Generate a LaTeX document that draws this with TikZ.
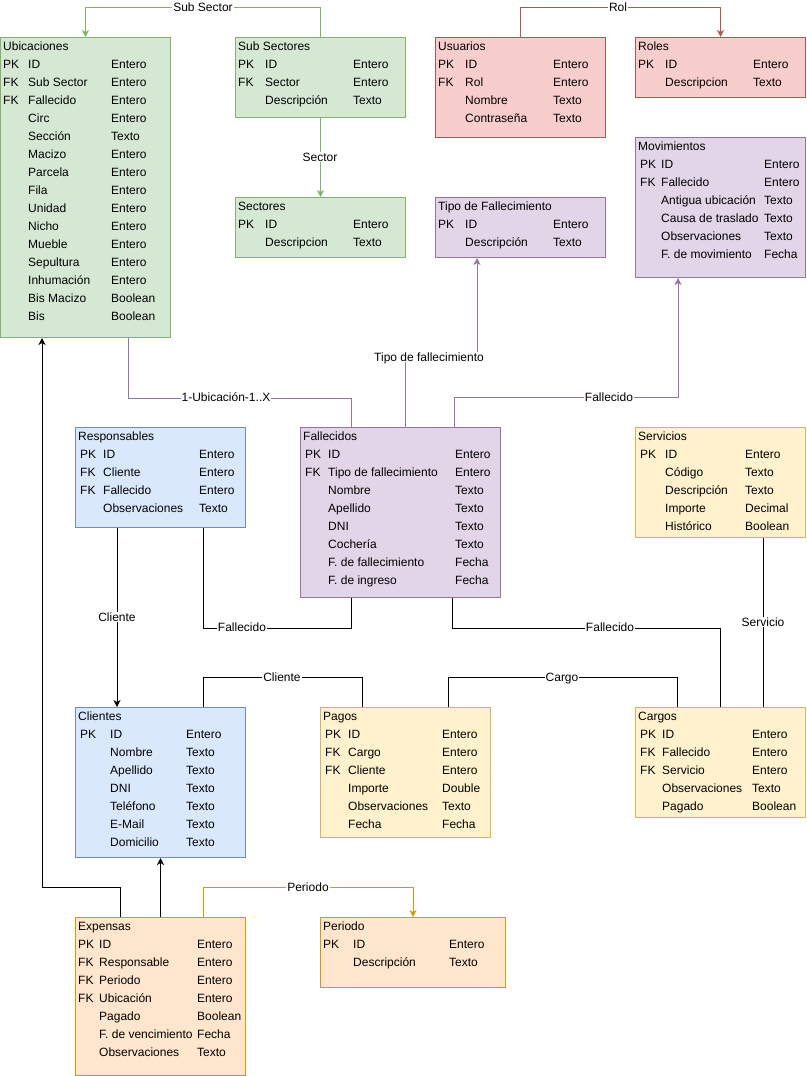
\documentclass[tikz,border=0pt]{standalone}
\usepackage{fontspec}
\setmainfont{Liberation Sans}
\usetikzlibrary{arrows.meta,calc}

% draw.io palette
\definecolor{gfill}{HTML}{D5E8D4}\definecolor{gline}{HTML}{82B366}
\definecolor{rfill}{HTML}{F8CECC}\definecolor{rline}{HTML}{B85450}
\definecolor{pfill}{HTML}{E1D5E7}\definecolor{pline}{HTML}{9673A6}
\definecolor{bfill}{HTML}{DAE8FC}\definecolor{bline}{HTML}{6C8EBF}
\definecolor{yfill}{HTML}{FFF2CC}\definecolor{yline}{HTML}{D6B656}
\definecolor{ofill}{HTML}{FFE6CC}\definecolor{oline}{HTML}{D79B00}

% table body: key column, field column, type column
\newcommand{\ttl}[2]{\multicolumn{3}{@{\hspace{#1}}l@{}}{#2}\\}
\newcommand{\fields}[3]{\begin{tabular}{@{}p{#1}@{}p{#2}@{}l@{}}#3\end{tabular}}

\tikzset{
  box/.style={draw, line width=1pt, anchor=north west, inner sep=0pt},
  gbox/.style={box, fill=gfill, draw=gline},
  rbox/.style={box, fill=rfill, draw=rline},
  pbox/.style={box, fill=pfill, draw=pline},
  bbox/.style={box, fill=bfill, draw=bline},
  ybox/.style={box, fill=yfill, draw=yline},
  obox/.style={box, fill=ofill, draw=oline},
  tbl/.style={anchor=north west, inner sep=0pt, font=\fontsize{12}{18}\selectfont},
  lbl/.style={fill=white, inner sep=1pt, font=\fontsize{12}{14}\selectfont,
              text height=8.6pt, text depth=0pt},
  link/.style={line width=1pt},
  >={Stealth[length=7pt,width=7pt,inset=2pt]},
}

\begin{document}
\begin{tikzpicture}[x=1pt,y=-1pt]
\useasboundingbox (0,0) rectangle (806,1076);

% ---------- tables ----------
\node[gbox, minimum width=170pt, minimum height=300pt] (ubicaciones) at (0,37) {};
\node[tbl] (ubicaciones-f) at ($(ubicaciones.north west)+(3,1)$) {\fields{25pt}{83pt}{\ttl{0pt}{Ubicaciones}
PK & ID & Entero\\ FK & Sub Sector & Entero\\ FK & Fallecido & Entero\\
 & Circ & Entero\\ & Sección & Texto\\ & Macizo & Entero\\ & Parcela & Entero\\
 & Fila & Entero\\ & Unidad & Entero\\ & Nicho & Entero\\ & Mueble & Entero\\
 & Sepultura & Entero\\ & Inhumación & Entero\\ & Bis Macizo & Boolean\\ & Bis & Boolean}};

\node[gbox, minimum width=170pt, minimum height=80pt] (subsectores) at (235,37) {};
\node[tbl] (subsectores-f) at ($(subsectores.north west)+(3,1)$) {\fields{27pt}{88pt}{\ttl{0pt}{Sub Sectores}
PK & ID & Entero\\ FK & Sector & Entero\\ & Descripción & Texto}};

\node[gbox, minimum width=170pt, minimum height=60pt] (sectores) at (235,197) {};
\node[tbl] (sectores-f) at ($(sectores.north west)+(3,1)$) {\fields{27pt}{88pt}{\ttl{0pt}{Sectores}
PK & ID & Entero\\ & Descripcion & Texto}};

\node[rbox, minimum width=170pt, minimum height=100pt] (usuarios) at (435,37) {};
\node[tbl] (usuarios-f) at ($(usuarios.north west)+(3,1)$) {\fields{27pt}{88pt}{\ttl{0pt}{Usuarios}
PK & ID & Entero\\ FK & Rol & Entero\\ & Nombre & Texto\\ & Contraseña & Texto}};

\node[rbox, minimum width=170pt, minimum height=60pt] (roles) at (635,37) {};
\node[tbl] (roles-f) at ($(roles.north west)+(3,1)$) {\fields{27pt}{88pt}{\ttl{0pt}{Roles}
PK & ID & Entero\\ & Descripcion & Texto}};

\node[pbox, minimum width=170pt, minimum height=60pt] (tipofall) at (435,197) {};
\node[tbl] (tipofall-f) at ($(tipofall.north west)+(3,1)$) {\fields{27pt}{88pt}{\ttl{0pt}{Tipo de Fallecimiento}
PK & ID & Entero\\ & Descripción & Texto}};

\node[pbox, minimum width=170pt, minimum height=140pt] (movimientos) at (635,137) {};
\node[tbl] (movimientos-f) at ($(movimientos.north west)+(5,1)$) {\fields{21pt}{103pt}{\ttl{-2pt}{Movimientos}
PK & ID & Entero\\ FK & Fallecido & Entero\\ & Antigua ubicación & Texto\\
 & Causa de traslado & Texto\\ & Observaciones & Texto\\ & F. de movimiento & Fecha}};

\node[bbox, minimum width=170pt, minimum height=100pt] (responsables) at (75,427) {};
\node[tbl] (responsables-f) at ($(responsables.north west)+(5,1)$) {\fields{23pt}{96pt}{\ttl{-2pt}{Responsables}
PK & ID & Entero\\ FK & Cliente & Entero\\ FK & Fallecido & Entero\\ & Observaciones & Texto}};

\node[pbox, minimum width=200pt, minimum height=170pt] (fallecidos) at (300,427) {};
\node[tbl] (fallecidos-f) at ($(fallecidos.north west)+(5,1)$) {\fields{23pt}{127pt}{\ttl{-2pt}{Fallecidos}
PK & ID & Entero\\ FK & Tipo de fallecimiento & Entero\\ & Nombre & Texto\\ & Apellido & Texto\\
 & DNI & Texto\\ & Cochería & Texto\\ & F. de fallecimiento & Fecha\\ & F. de ingreso & Fecha}};

\node[ybox, minimum width=170pt, minimum height=110pt] (servicios) at (635,427) {};
\node[tbl] (servicios-f) at ($(servicios.north west)+(5,1)$) {\fields{25pt}{80pt}{\ttl{-2pt}{Servicios}
PK & ID & Entero\\ & Código & Texto\\ & Descripción & Texto\\ & Importe & Decimal\\ & Histórico & Boolean}};

\node[ybox, minimum width=170pt, minimum height=110pt] (cargos) at (635,707) {};
\node[tbl] (cargos-f) at ($(cargos.north west)+(5,1)$) {\fields{22pt}{90pt}{\ttl{-2pt}{Cargos}
PK & ID & Entero\\ FK & Fallecido & Entero\\ FK & Servicio & Entero\\ & Observaciones & Texto\\ & Pagado & Boolean}};

\node[bbox, minimum width=170pt, minimum height=150pt] (clientes) at (75,707) {};
\node[tbl] (clientes-f) at ($(clientes.north west)+(5,1)$) {\fields{30pt}{76pt}{\ttl{-2pt}{Clientes}
PK & ID & Entero\\ & Nombre & Texto\\ & Apellido & Texto\\ & DNI & Texto\\
 & Teléfono & Texto\\ & E-Mail & Texto\\ & Domicilio & Texto}};

\node[ybox, minimum width=170pt, minimum height=130pt] (pagos) at (320,707) {};
\node[tbl] (pagos-f) at ($(pagos.north west)+(5,1)$) {\fields{23pt}{94pt}{\ttl{-2pt}{Pagos}
PK & ID & Entero\\ FK & Cargo & Entero\\ FK & Cliente & Entero\\ & Importe & Double\\
 & Observaciones & Texto\\ & Fecha & Fecha}};

\node[obox, minimum width=170pt, minimum height=158pt] (expensas) at (75,917) {};
\node[tbl] (expensas-f) at ($(expensas.north west)+(3,1)$) {\fields{21pt}{98pt}{\ttl{0pt}{Expensas}
PK & ID & Entero\\ FK & Responsable & Entero\\ FK & Periodo & Entero\\ FK & Ubicación & Entero\\
 & Pagado & Boolean\\ & F. de vencimiento & Fecha\\ & Observaciones & Texto}};

\node[obox, minimum width=185pt, minimum height=70pt] (periodo) at (320,917) {};
\node[tbl] (periodo-f) at ($(periodo.north west)+(3,1)$) {\fields{30pt}{96pt}{\ttl{0pt}{Periodo}
PK & ID & Entero\\ & Descripción & Texto}};

% ---------- relations ----------
\draw[link, gline, ->] (subsectores.north) -- ++(0,-30) -| (ubicaciones.north);
\draw[link, gline, ->] (subsectores.south) -- (sectores.north);
\draw[link, rline, ->] (usuarios.north) -- ++(0,-30) -| (roles.north);
\draw[link, pline, ->] ($(fallecidos.north west)+(105,0)$) -- ++(0,-70)
      -| ($(tipofall.south west)+(42,0)$);
\draw[link, pline, ->] ($(fallecidos.north west)+(154,0)$) -- ++(0,-30)
      -| ($(movimientos.south west)+(43,0)$);
\draw[link, pline] ($(ubicaciones.south west)+(128,0)$) -- ++(0,60)
      -| ($(fallecidos.north west)+(51,0)$);
\draw[link, ->] ($(responsables.south west)+(42,0)$) -- ($(clientes.north west)+(42,0)$);
\draw[link] ($(responsables.south west)+(128,0)$) -- ++(0,100)
      -| ($(fallecidos.south west)+(51,0)$);
\draw[link] ($(fallecidos.south west)+(152,0)$) -- ++(0,30) -| (cargos.north);
\draw[link] ($(servicios.south west)+(128,0)$) -- ($(cargos.north west)+(128,0)$);
\draw[link] ($(pagos.north west)+(128,0)$) -- ++(0,-30) -| ($(cargos.north west)+(42,0)$);
\draw[link] ($(clientes.north west)+(128,0)$) -- ++(0,-30) -| ($(pagos.north west)+(42,0)$);
\draw[link, ->] ($(expensas.north west)+(45,0)$) -- ++(0,-30)
      -| ($(ubicaciones.south west)+(42,0)$);
\draw[link, ->] (expensas.north) -- (clientes.south);
\draw[link, oline, ->] ($(expensas.north west)+(128,0)$) -- ++(0,-30) -| (periodo.north);

% ---------- relation labels ----------
\node[lbl] (l-subsector) at (203,7) {Sub Sector};
\node[lbl] (l-sector) at (320,157) {Sector};
\node[lbl] (l-rol) at (618,7) {Rol};
\node[lbl] (l-tipo) at (429,357) {Tipo de fallecimiento};
\node[lbl] (l-mov) at (609,397) {Fallecido};
\node[lbl] (l-ubic) at (226,397) {1-Ubicación-1..X};
\node[lbl] (l-resp-cli) at (117,617) {Cliente};
\node[lbl] (l-resp-fall) at (242,627) {Fallecido};
\node[lbl] (l-fall-cargo) at (610,627) {Fallecido};
\node[lbl] (l-serv) at (763,622) {Servicio};
\node[lbl] (l-cargo) at (562,677) {Cargo};
\node[lbl] (l-cli-pago) at (282,677) {Cliente};
\node[lbl] (l-periodo) at (308,887) {Periodo};
\end{tikzpicture}
\end{document}
